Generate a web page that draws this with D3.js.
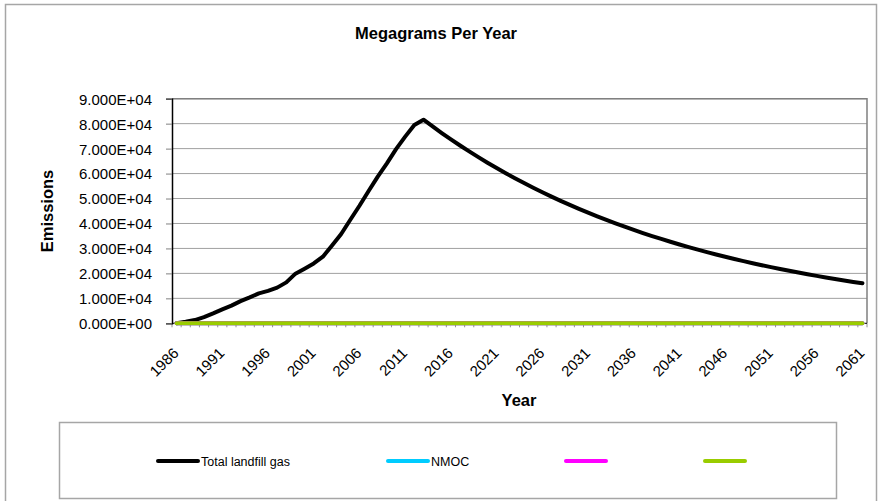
<!DOCTYPE html>
<html>
<head>
<meta charset="utf-8">
<script src="https://cdn.jsdelivr.net/npm/d3@7"></script>
<style>
  body { margin: 0; background: #fff; }
  text { font-family: "Liberation Sans", Arial, sans-serif; fill: #000; }
</style>
</head>
<body>
<script>

// years on the category axis
var years = [1986,1987,1988,1989,1990,1991,1992,1993,1994,1995,1996,1997,1998,1999,2000,
             2001,2002,2003,2004,2005,2006,2007,2008,2009,2010,2011,2012,2013,2014,2015,
             2016,2017,2018,2019,2020,2021,2022,2023,2024,2025,2026,2027,2028,2029,2030,
             2031,2032,2033,2034,2035,2036,2037,2038,2039,2040,2041,2042,2043,2044,2045,
             2046,2047,2048,2049,2050,2051,2052,2053,2054,2055,2056,2057,2058,2059,2060,2061];

// Megagrams per year
var totalGas = [0,600,1300,2500,4000,5600,7100,8900,10400,12000,
                13000,14300,16400,19900,21900,24000,26700,31200,35800,41500,
                47100,53000,58800,64100,69800,74800,79500,81600,78880,76250,
                73710,71250,68880,66580,64360,62220,60140,58140,56200,54330,
                52520,50770,49070,47440,45860,44330,42850,41420,40040,38710,
                37420,36170,34970,33800,32670,31590,30530,29510,28530,27580,
                26660,25770,24910,24080,23280,22500,21750,21030,20330,19650,
                19000,18360,17750,17160,16590,16030];

var nmoc = [0,0,0,0,0,0,0,0,0,0,0,0,0,0,0,0,0,0,0,0,0,0,0,0,0,0,0,0,0,0,0,0,0,0,0,0,0,0,
            0,0,0,0,0,0,0,0,0,0,0,0,0,0,0,0,0,0,0,0,0,0,0,0,0,0,0,0,0,0,0,0,0,0,0,0,0,0];
var series3 = [0,0,0,0,0,0,0,0,0,0,0,0,0,0,0,0,0,0,0,0,0,0,0,0,0,0,0,0,0,0,0,0,0,0,0,0,0,0,
               0,0,0,0,0,0,0,0,0,0,0,0,0,0,0,0,0,0,0,0,0,0,0,0,0,0,0,0,0,0,0,0,0,0,0,0,0,0];
var series4 = [0,0,0,0,0,0,0,0,0,0,0,0,0,0,0,0,0,0,0,0,0,0,0,0,0,0,0,0,0,0,0,0,0,0,0,0,0,0,
               0,0,0,0,0,0,0,0,0,0,0,0,0,0,0,0,0,0,0,0,0,0,0,0,0,0,0,0,0,0,0,0,0,0,0,0,0,0];

var seriesNames = ["Total landfill gas", "NMOC", "", ""];
var seriesColors = ["#000000", "#00ccff", "#ff00ff", "#99cc00"];

var yTicks = [0,10000,20000,30000,40000,50000,60000,70000,80000,90000];
var xLabelYears = [1986,1991,1996,2001,2006,2011,2016,2021,2026,2031,2036,2041,2046,2051,2056,2061];

var width = 878;
var height = 501;

// plot area
var plotLeft = 172, plotRight = 867, plotTop = 98.7, plotBottom = 323.3;

var svg = d3.select("body")
            .append("svg")
            .attr("width", width)
            .attr("height", height);

// outer chart border
svg.append("rect")
   .attr("x", 5.5).attr("y", 4.5)
   .attr("width", 871).attr("height", 510)
   .style("fill", "none")
   .style("stroke", "#a6a6a6")
   .style("stroke-width", 1.5);

var x = d3.scalePoint()
          .domain(years)
          .range([plotLeft, plotRight])
          .padding(0.5);

var xBand = d3.scaleBand()
              .domain(years)
              .range([plotLeft, plotRight]);

var y = d3.scaleLinear()
          .domain([0, 90000])
          .range([plotBottom, plotTop]);

// gridlines
svg.append("g")
   .selectAll("line")
   .data(yTicks.slice(1))
   .enter()
   .append("line")
   .attr("x1", plotLeft).attr("x2", plotRight)
   .attr("y1", function(d) { return y(d); })
   .attr("y2", function(d) { return y(d); })
   .style("stroke", "#a0a0a0")
   .style("stroke-width", 1);

// plot frame (top and right)
svg.append("path")
   .attr("d", "M" + plotLeft + "," + plotTop + "H" + plotRight + "V" + plotBottom)
   .style("fill", "none")
   .style("stroke", "#808080")
   .style("stroke-width", 1.5);

// x axis minor ticks at category edges
svg.append("g")
   .selectAll("line")
   .data(years.concat(["end"]))
   .enter()
   .append("line")
   .attr("x1", function(d) { return d === "end" ? plotRight : xBand(d); })
   .attr("x2", function(d) { return d === "end" ? plotRight : xBand(d); })
   .attr("y1", plotBottom).attr("y2", plotBottom + 4)
   .style("stroke", "#909090")
   .style("stroke-width", 1);

svg.append("line")
   .attr("x1", plotLeft).attr("x2", plotRight)
   .attr("y1", plotBottom).attr("y2", plotBottom)
   .style("stroke", "#000");

// y axis
function sci(v) {
    if (v === 0) return "0.000E+00";
    var e = Math.floor(Math.log10(v));
    return (v / Math.pow(10, e)).toFixed(3) + "E+" + (e < 10 ? "0" + e : e);
}

var yAxis = d3.axisLeft(y)
              .tickValues(yTicks)
              .tickSize(6)
              .tickPadding(14)
              .tickFormat(sci);

var gy = svg.append("g")
            .attr("transform", "translate(" + plotLeft + ",0)")
            .call(yAxis);
gy.select(".domain").style("stroke", "#000").style("stroke-width", 1.5);
gy.selectAll(".tick line").style("stroke", "#808080");
gy.selectAll("text")
  .style("font-size", "15px")
  .style("font-family", "Liberation Sans, Arial, sans-serif")
  .attr("dy", "0.36em");

// x labels, rotated
svg.append("g")
   .selectAll("text")
   .data(xLabelYears)
   .enter()
   .append("text")
   .attr("transform", function(d) {
       return "translate(" + (x(d) + 3) + "," + 354 + ") rotate(-45)";
   })
   .attr("text-anchor", "end")
   .style("font-size", "15px")
   .text(function(d) { return d; });

// lines
var line = d3.line()
             .x(function(d, i) { return x(years[i]); })
             .y(function(d) { return y(d); });

var allSeries = [totalGas, nmoc, series3, series4];

svg.append("g")
   .selectAll("path")
   .data(allSeries)
   .enter()
   .append("path")
   .attr("d", line)
   .style("fill", "none")
   .style("stroke", function(d, i) { return seriesColors[i]; })
   .style("stroke-width", 4)
   .style("stroke-linejoin", "round")
   .style("stroke-linecap", "round");

// titles
svg.append("text")
   .attr("x", 436).attr("y", 39)
   .attr("text-anchor", "middle")
   .style("font-size", "16.5px")
   .style("font-weight", "bold")
   .text("Megagrams Per Year");

svg.append("text")
   .attr("x", 519).attr("y", 406)
   .attr("text-anchor", "middle")
   .style("font-size", "16.5px")
   .style("font-weight", "bold")
   .text("Year");

svg.append("text")
   .attr("transform", "translate(52.5,211) rotate(-90)")
   .attr("text-anchor", "middle")
   .style("font-size", "16.5px")
   .style("font-weight", "bold")
   .text("Emissions");

// legend
svg.append("rect")
   .attr("x", 59.5).attr("y", 422.5)
   .attr("width", 777).attr("height", 76)
   .style("fill", "none")
   .style("stroke", "#a6a6a6")
   .style("stroke-width", 1.5);

var legendX = [158, 388, 566, 705];

var legend = svg.append("g")
                .selectAll("g")
                .data(seriesNames)
                .enter()
                .append("g")
                .attr("transform", function(d, i) { return "translate(" + legendX[i] + ",461)"; });

legend.append("line")
      .attr("x1", 0).attr("x2", 40)
      .style("stroke", function(d, i) { return seriesColors[i]; })
      .style("stroke-width", 4)
      .style("stroke-linecap", "round");

legend.append("text")
      .attr("x", 43)
      .attr("y", 4.5)
      .style("font-size", "12.5px")
      .text(function(d) { return d; });

</script>
</body>
</html>
